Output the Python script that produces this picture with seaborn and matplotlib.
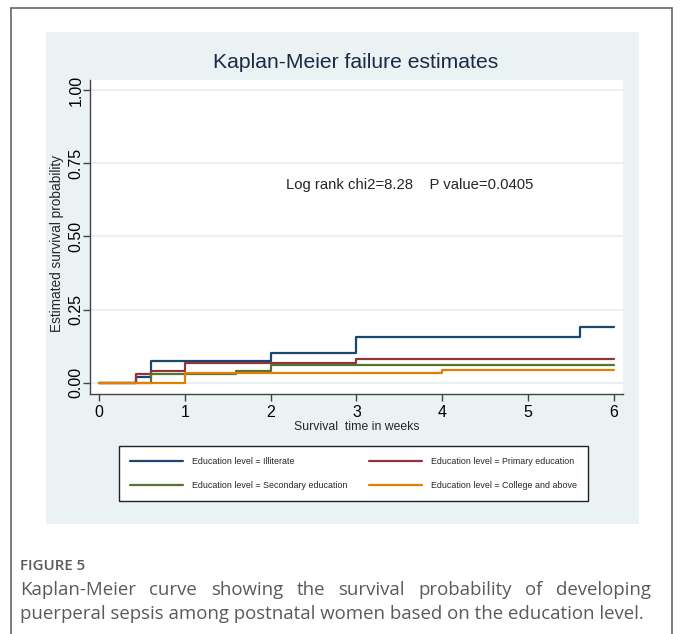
import numpy as np
import pandas as pd
import matplotlib
matplotlib.use('Agg')
import matplotlib.pyplot as plt
import seaborn as sns
from matplotlib.lines import Line2D
from matplotlib.patches import Rectangle

# failure estimates (weeks, cumulative failure)
groups = ['Illiterate', 'Primary education', 'Secondary education', 'College and above']
weeks_illiterate = [0, 0.43, 0.6, 2, 3, 5.6, 6]
fail_illiterate = [0, 0.021, 0.074, 0.100, 0.157, 0.191, 0.191]
weeks_primary = [0, 0.43, 0.6, 1, 3, 6]
fail_primary = [0, 0.029, 0.039, 0.068, 0.082, 0.082]
weeks_secondary = [0, 0.6, 1.6, 2, 6]
fail_secondary = [0, 0.030, 0.040, 0.059, 0.059]
weeks_college = [0, 1, 4, 6]
fail_college = [0, 0.034, 0.045, 0.045]

x_ticks = [0, 1, 2, 3, 4, 5, 6]
y_ticks = [0, 0.25, 0.5, 0.75, 1.0]
colors = ['#1a476f', '#90353b', '#55752f', '#e37e00']

title = 'Kaplan-Meier failure estimates'
stat_text = 'Log rank chi2=8.28    P value=0.0405'
caption_head = 'FIGURE 5'
caption_1 = 'Kaplan-Meier curve showing the survival probability of developing'
caption_2 = 'puerperal sepsis among postnatal women based on the education level.'

rows = []
for g, wk, fl in zip(groups,
                     [weeks_illiterate, weeks_primary, weeks_secondary, weeks_college],
                     [fail_illiterate, fail_primary, fail_secondary, fail_college]):
    for w, f in zip(wk, fl):
        rows.append({'week': w, 'fail': f, 'group': 'Education level = ' + g})
df = pd.DataFrame(rows)
labels = ['Education level = ' + g for g in groups]

sns.set_theme(style='ticks')
plt.rcParams['font.family'] = ['Liberation Sans', 'DejaVu Sans']

W, H = 680, 634
fig = plt.figure(figsize=(W / 100, H / 100), dpi=100)
fig.patch.set_facecolor('white')

def fx(px):
    return px / W

def fy(py):
    return 1 - py / H

# outer frame and stata graph region
fig.add_artist(Line2D([fx(11), fx(11)], [0, fy(8)], color='#666666', lw=1.2))
fig.add_artist(Line2D([fx(11), fx(672)], [fy(8), fy(8)], color='#666666', lw=1.2))
fig.add_artist(Line2D([fx(672), fx(672)], [0, fy(8)], color='#666666', lw=1.2))
fig.add_artist(Rectangle((fx(46), fy(524)), fx(639) - fx(46), fy(32) - fy(524),
                         facecolor='#eaf2f3', edgecolor='none', zorder=0))

ax = fig.add_axes([fx(90), fy(394), fx(623) - fx(90), fy(80) - fy(394)])
ax.set_facecolor('white')

sns.lineplot(data=df, x='week', y='fail', hue='group', hue_order=labels,
             palette=colors, drawstyle='steps-post', estimator=None, sort=False,
             lw=1.6, legend=False, ax=ax, zorder=3)

ax.set_xlim(-0.105, 6.105)
ax.set_ylim(-0.0386, 1.034)
ax.set_xticks(x_ticks)
ax.set_yticks(y_ticks)
ax.set_yticklabels(['%.2f' % v for v in y_ticks])
ax.grid(axis='y', color='#e6eff1', lw=1.3)
ax.grid(axis='x', visible=False)
for s in ['top', 'right']:
    ax.spines[s].set_visible(False)
for s in ['left', 'bottom']:
    ax.spines[s].set_color('#444444')
    ax.spines[s].set_linewidth(1.0)
ax.tick_params(axis='both', length=5, width=1, color='#444444', labelsize=11.5,
               labelcolor='black')
ax.tick_params(axis='x', pad=3)
ax.tick_params(axis='y', pad=-0.5)
plt.setp(ax.get_yticklabels(), rotation=90, va='center')
ax.set_xlabel('Survival  time in weeks', fontsize=8.8, labelpad=1)
ax.set_ylabel('')
fig.text(fx(57), fy(243), 'Estimated survival probability', rotation=90,
         ha='center', va='center', fontsize=9.8)

fig.text(fx(356), fy(63), title, ha='center', va='center', fontsize=15.2, color='#1c2a48')
ax.text(3.62, 0.676, stat_text, ha='center', va='center', fontsize=10.7)

# legend in stata order: row by row
order = [0, 2, 1, 3]
handles = [Line2D([0], [0], color=colors[i], lw=1.6) for i in order]
leg = fig.legend(handles, [labels[i] for i in order], ncol=2,
                 loc='upper left', bbox_to_anchor=(fx(119), fy(446)),
                 fontsize=6.4, frameon=True, fancybox=False, borderpad=1.2,
                 handlelength=6.0, handletextpad=1.0, columnspacing=2.4,
                 labelspacing=1.75, borderaxespad=0)
leg.get_frame().set_edgecolor('#222222')
leg.get_frame().set_linewidth(1.0)
leg.get_frame().set_alpha(1)

# caption
cap_font = ['Open Sans', 'DejaVu Sans']
cap_color = '#5a5a5a'
fig.text(fx(20), fy(566), caption_head, ha='left', va='center', fontsize=10.8,
         color=cap_color, family=cap_font, fontweight='semibold')
fig.text(fx(20), fy(614), caption_2, ha='left', va='center', fontsize=13.4,
         color=cap_color, family=cap_font)

fig.canvas.draw()
renderer = fig.canvas.get_renderer()
words = caption_1.split()
word_texts = [fig.text(0, fy(590), w, ha='left', va='center', fontsize=13.4,
                       color=cap_color, family=cap_font) for w in words]
widths = [t.get_window_extent(renderer).width for t in word_texts]
gap = (651 - 20 - sum(widths)) / (len(words) - 1)
xpos = 20
for t, w in zip(word_texts, widths):
    t.set_position((fx(xpos), fy(590)))
    xpos += w + gap

fig.savefig('out.png', dpi=100)
